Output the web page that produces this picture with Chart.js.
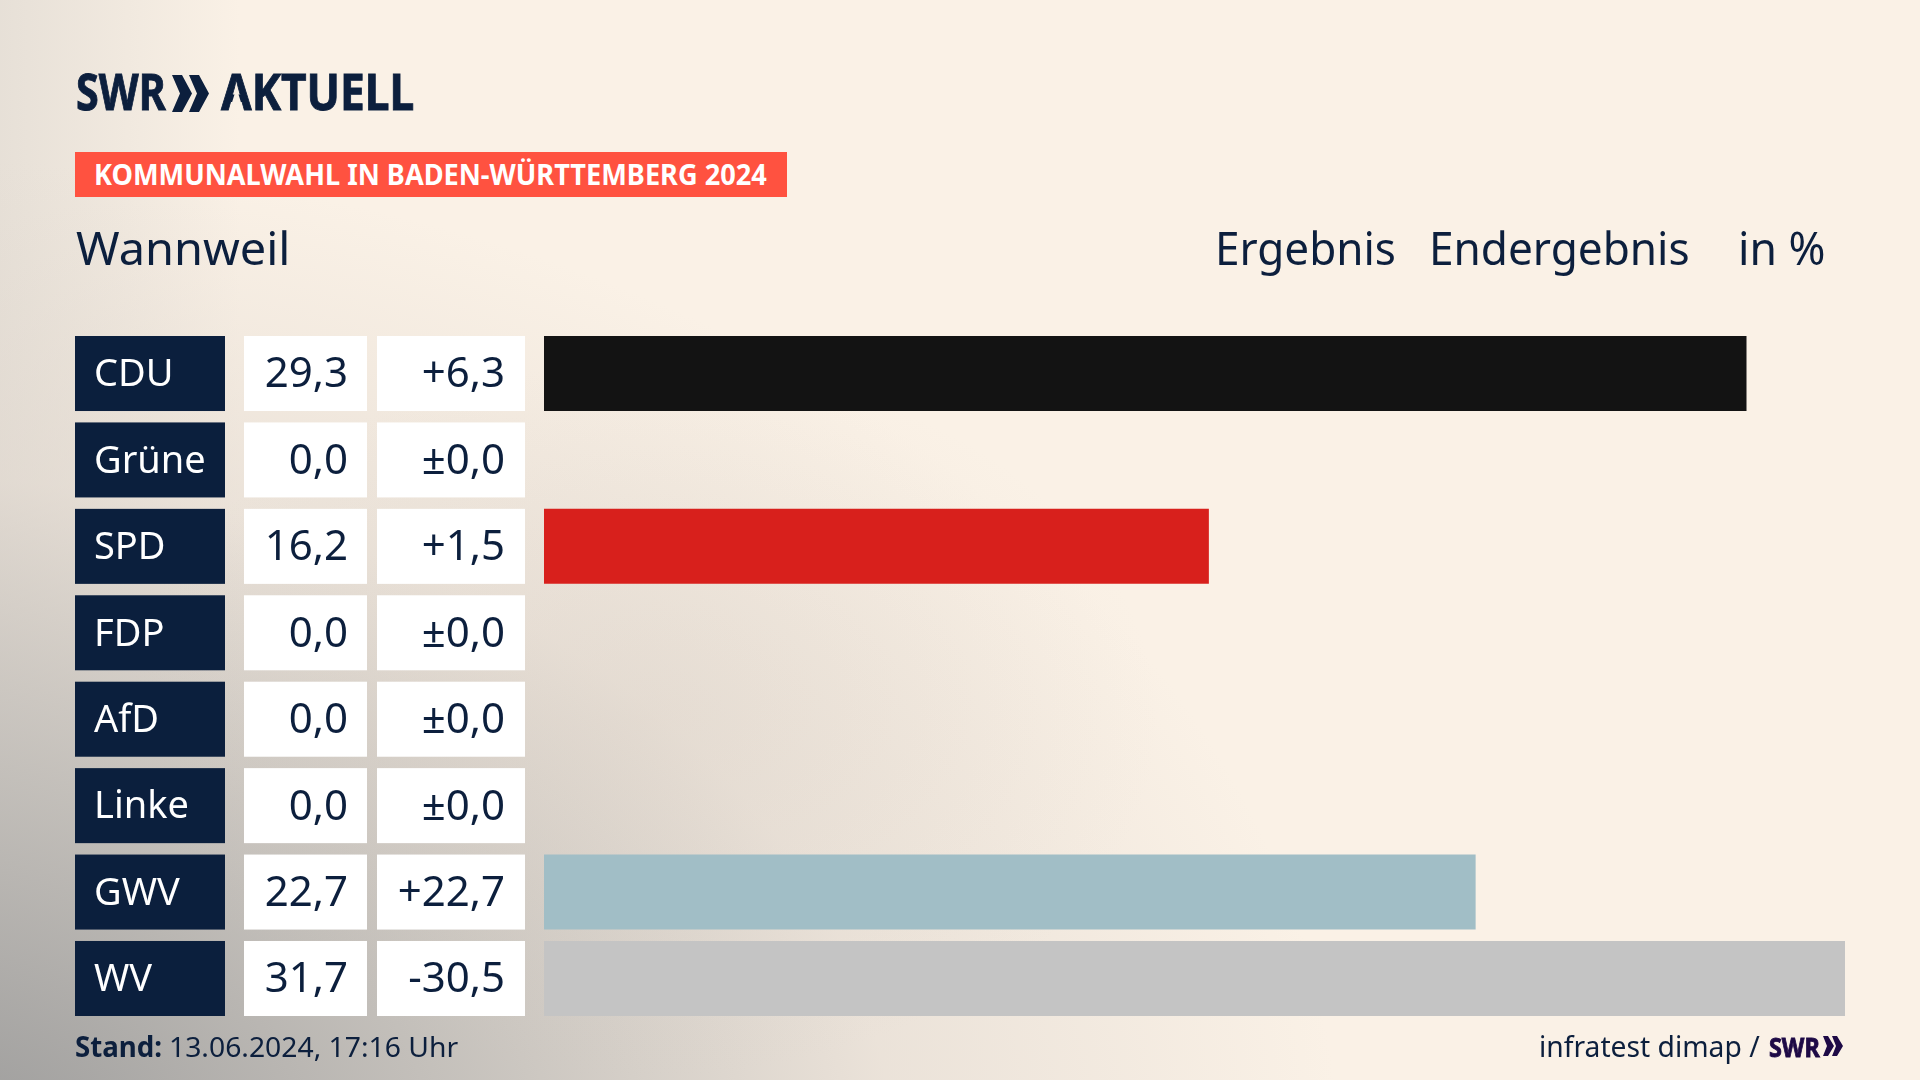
<!DOCTYPE html>
<html lang="de">
<head>
<meta charset="utf-8">
<title>Kommunalwahl Wannweil</title>
<script src="https://cdn.jsdelivr.net/npm/chart.js@4"></script>
<style>
    html, body { margin: 0; padding: 0; }
    body {
        width: 1920px; height: 1080px; overflow: hidden; position: relative;
        font-family: "Noto Sans", sans-serif; color: #0c1f3d;
        background:
            radial-gradient(ellipse 520px 360px at 640px 720px, rgba(205,195,185,0.22), rgba(205,195,185,0) 100%),
            radial-gradient(ellipse 1400px 1000px at -60px 1160px, rgba(150,150,150,0.95) 0%, rgba(185,182,178,0.8) 38%, rgba(220,212,204,0.5) 68%, rgba(250,241,230,0) 100%),
            linear-gradient(90deg, rgba(215,210,203,0.55) 0, rgba(250,241,230,0) 240px),
            #faf1e6;
    }
    canvas { position: absolute; left: 0; top: 0; }
    .txt { position: absolute; white-space: nowrap; transform-origin: left center; line-height: 1; }
    .heavy { -webkit-text-stroke: 0.9px currentColor; }
    #tag { position: absolute; left: 75px; top: 152px; width: 712px; height: 45px; background: #ff5240; }
    svg { position: absolute; }
</style>
</head>
<body>
<canvas id="resultChart" width="1920" height="1080"></canvas>
<div id="tag"></div>
<span class="txt heavy" data-w="90" style="left:76px;top:66px;font-size:50px;font-weight:700">SWR</span>
<svg style="left:172px;top:75px" width="37" height="37" viewBox="0 0 37 37"><path fill="#0c1f3d" d="M0 0h10l10 18.500L10 37H0l8-18.500zM17 0h10l10 18.500L27 37H17l8-18.500z"/></svg>
<span class="txt heavy" data-w="193" style="left:221px;top:66px;font-size:50px;font-weight:700">AKTUELL</span>
<svg style="left:225px;top:85px" width="24" height="20" viewBox="0 0 24 20"><path fill="#f9f0e5" d="M11.500 3L6.500 19h10z"/></svg>
<span class="txt" data-w="673" style="left:94px;top:160px;font-size:28px;font-weight:700;color:#fff">KOMMUNALWAHL IN BADEN-WÜRTTEMBERG 2024</span>
<span class="txt" data-w="214" style="left:76px;top:224px;font-size:46px">Wannweil</span>
<span class="txt" data-w="181" style="left:1215px;top:224px;font-size:46px">Ergebnis</span>
<span class="txt" data-w="261" style="left:1429px;top:224px;font-size:46px">Endergebnis</span>
<span class="txt" data-w="87" style="left:1738px;top:224px;font-size:46px">in %</span>
<span class="txt" data-w="87" style="left:75px;top:1032px;font-size:28px;font-weight:700">Stand:</span>
<span class="txt" data-w="289" style="left:169px;top:1032px;font-size:28px">13.06.2024, 17:16 Uhr</span>
<span class="txt" data-w="221" style="left:1539px;top:1031px;font-size:29px">infratest dimap /</span>
<span class="txt heavy" data-w="51" style="left:1769px;top:1033px;font-size:27px;font-weight:700;color:#1e0a46">SWR</span>
<svg style="left:1823px;top:1036px" width="20" height="20" viewBox="0 0 20 20"><path fill="#1e0a46" d="M0 0h5l6 10-6 10H0l4-10zM9 0h5l6 10-6 10H9l4-10z"/></svg>
<script>
const parties = ['CDU', 'Grüne', 'SPD', 'FDP', 'AfD', 'Linke', 'GWV', 'WV'];
const results = [29.3, 0, 16.2, 0, 0, 0, 22.7, 31.7];
const changes = [6.3, 0, 1.5, 0, 0, 0, 22.7, -30.5];
const barColors = ['#131313', '#46962b', '#d8201c', '#ffed00', '#009ee0', '#be3075', '#a1bec6', '#c4c4c4'];

const NAVY = '#0b1f3d';

function formatResult(v) {
    return v.toFixed(1).replace('.', ',');
}

function formatChange(v) {
    const s = Math.abs(v).toFixed(1).replace('.', ',');
    if (v > 0) return '+' + s;
    if (v < 0) return '-' + s;
    return '±' + s;
}

// squeeze header and footer texts to the widths seen in the picture
document.querySelectorAll('.txt').forEach(el => {
    const k = Number(el.dataset.w) / el.offsetWidth;
    el.style.transform = 'scaleX(' + k + ')';
});

// party label and the two white value cells left of each bar
const tableCells = {
    id: 'tableCells',
    afterDatasetsDraw(chart) {
        const ctx = chart.ctx;
        const y = chart.scales.y;
        const h = chart.getDatasetMeta(0).data[0].height;
        ctx.save();
        ctx.textBaseline = 'middle';
        parties.forEach((name, i) => {
            const cy = y.getPixelForValue(i);
            const top = cy - h / 2;
            ctx.fillStyle = NAVY;
            ctx.fillRect(75, top, 150, h);
            ctx.fillStyle = '#fff';
            ctx.fillRect(244, top, 123, h);
            ctx.fillRect(377, top, 148, h);

            ctx.textAlign = 'left';
            ctx.font = '38px "Noto Sans"';
            ctx.fillText(name, 94, cy + 2);
            ctx.font = '42px "Noto Sans"';
            ctx.fillStyle = '#0c1f3d';
            ctx.textAlign = 'right';
            ctx.fillText(formatResult(results[i]), 348, cy + 2);
            ctx.fillText(formatChange(changes[i]), 505, cy + 2);
        });
        ctx.restore();
    }
};

new Chart(document.getElementById('resultChart'), {
    type: 'bar',
    data: {
        labels: parties,
        datasets: [{
            data: results,
            backgroundColor: barColors,
            categoryPercentage: 1,
            barPercentage: 0.868
        }]
    },
    options: {
        indexAxis: 'y',
        responsive: false,
        animation: false,
        layout: { padding: { left: 544, right: 75, top: 330.3, bottom: 58.3 } },
        scales: {
            x: { display: false, min: 0, max: 31.7 },
            y: { display: false }
        },
        plugins: {
            legend: { display: false },
            tooltip: { enabled: false }
        }
    },
    plugins: [tableCells]
});
</script>
</body>
</html>
